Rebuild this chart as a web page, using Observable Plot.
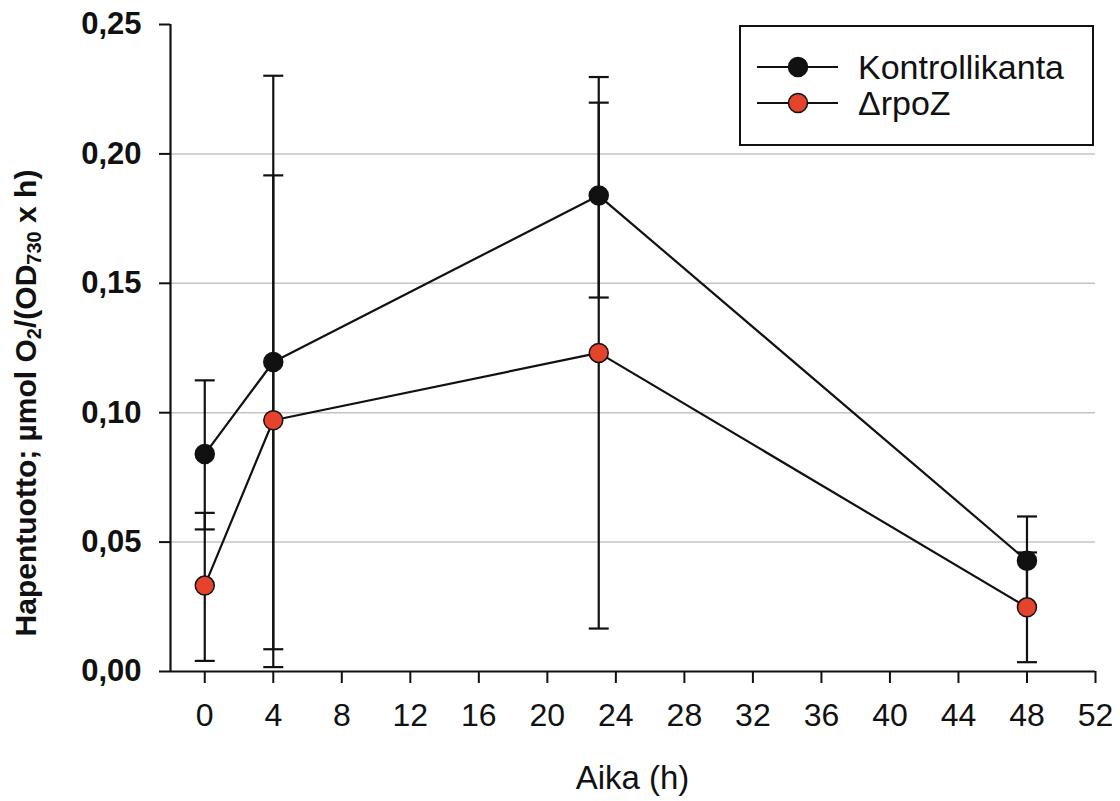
<!DOCTYPE html>
<html>
<head>
<meta charset="utf-8">
<script src="https://cdn.jsdelivr.net/npm/d3@7"></script>
<script src="https://cdn.jsdelivr.net/npm/@observablehq/plot@0.6"></script>
<style>
  html, body { margin: 0; padding: 0; background: #ffffff; }
  #chart svg { display: block; }
</style>
</head>
<body>
<div id="chart"></div>
<script>
// ---- data ----
const hours = [0, 4, 23, 48];
const seriesNames = ["Kontrollikanta", "ΔrpoZ"];
const seriesColors = ["#111111", "#e5432b"];

const controlMean = [0.0840, 0.1196, 0.1839, 0.0428];
const controlHigh = [0.1125, 0.2302, 0.2198, 0.0599];
const controlLow  = [0.0549, 0.0086, 0.1445, 0.0257];

const rpozMean = [0.0332, 0.0971, 0.1231, 0.0248];
const rpozHigh = [0.0613, 0.1917, 0.2297, 0.0460];
const rpozLow  = [0.0041, 0.0017, 0.0166, 0.0036];

const xTicks = [0, 4, 8, 12, 16, 20, 24, 28, 32, 36, 40, 44, 48, 52];
const yTicks = [0, 0.05, 0.10, 0.15, 0.20, 0.25];
const gridTicks = [0.05, 0.10, 0.15, 0.20];

const xLabel = "Aika (h)";
const yLabelParts = [
  {t: "Hapentuotto; µmol O", sub: false},
  {t: "2", sub: true},
  {t: "/(OD", sub: false},
  {t: "730", sub: true},
  {t: " x h)", sub: false}
];

// ---- table ----
const rows = [];
hours.forEach((h, i) => {
  rows.push({series: seriesNames[0], hour: h, mean: controlMean[i], high: controlHigh[i], low: controlLow[i]});
});
hours.forEach((h, i) => {
  rows.push({series: seriesNames[1], hour: h, mean: rpozMean[i], high: rpozHigh[i], low: rpozLow[i]});
});

const capSymbol = {
  draw(context, size) {
    const w = Math.sqrt(size / Math.PI);
    context.moveTo(-w, 0);
    context.lineTo(w, 0);
  }
};

const FONT = "'Liberation Sans', Arial, Helvetica, sans-serif";
const W = 1120, H = 801;
const mL = 170, mR = 25, mT = 24, mB = 130;

const chart = Plot.plot({
  width: W,
  height: H,
  marginLeft: mL,
  marginRight: mR,
  marginTop: mT,
  marginBottom: mB,
  style: {fontFamily: FONT, background: "#ffffff", color: "#111111"},
  x: {domain: [-2, 52], axis: null},
  y: {domain: [0, 0.25], axis: null},
  color: {domain: seriesNames, range: seriesColors},
  marks: [
    Plot.gridY(gridTicks, {stroke: "#c4c4c4", strokeOpacity: 1, strokeWidth: 1.5}),
    Plot.ruleX(rows, {x: "hour", y1: "low", y2: "high", stroke: "#111111", strokeWidth: 2.2}),
    Plot.dot(rows, {x: "hour", y: "high", symbol: capSymbol, r: 10, fill: "none", stroke: "#111111", strokeWidth: 2.2}),
    Plot.dot(rows, {x: "hour", y: "low", symbol: capSymbol, r: 10, fill: "none", stroke: "#111111", strokeWidth: 2.2}),
    Plot.line(rows, {x: "hour", y: "mean", z: "series", stroke: "#111111", strokeWidth: 2.2}),
    Plot.dot(rows, {x: "hour", y: "mean", fill: "series", stroke: "#111111", strokeWidth: 1.5, r: 9.5}),
    Plot.ruleX([-2], {stroke: "#111111", strokeWidth: 2.2}),
    Plot.ruleY([0], {stroke: "#111111", strokeWidth: 2.2}),
    Plot.axisX({ticks: xTicks, tickSize: 12, tickPadding: 20, fontSize: 32, label: null, strokeWidth: 2}),
    Plot.axisY({ticks: yTicks, tickSize: 11, tickPadding: 18, fontSize: 31, fontWeight: "bold", label: null, strokeWidth: 2,
      tickFormat: d => d.toFixed(2).replace(".", ",")})
  ]
});

const svg = d3.select(chart);
svg.selectAll('[aria-label="y-axis tick label"] text, [aria-label="y-axis tick label"]').attr("font-weight", "bold");

// x-axis title
svg.append("text")
  .attr("x", mL + (W - mL - mR) / 2)
  .attr("y", 789)
  .attr("text-anchor", "middle")
  .attr("font-family", FONT)
  .attr("font-size", 33)
  .attr("fill", "#111111")
  .text(xLabel);

// y-axis title with subscripts
const yt = svg.append("text")
  .attr("transform", "translate(36,403) rotate(-90)")
  .attr("text-anchor", "middle")
  .attr("font-family", FONT)
  .attr("font-weight", "bold")
  .attr("font-size", 30)
  .attr("fill", "#111111");
let shifted = false;
yLabelParts.forEach(p => {
  const ts = yt.append("tspan").text(p.t);
  if (p.sub) { ts.attr("font-size", 20).attr("dy", 5); shifted = true; }
  else if (shifted) { ts.attr("dy", -5); shifted = false; }
});

// legend box
const lg = svg.append("g").attr("font-family", FONT);
lg.append("rect")
  .attr("x", 740).attr("y", 26).attr("width", 353).attr("height", 119)
  .attr("fill", "#ffffff").attr("stroke", "#111111").attr("stroke-width", 2);
const rowY = [67, 103];
seriesNames.forEach((name, i) => {
  lg.append("line").attr("x1", 757).attr("x2", 838).attr("y1", rowY[i]).attr("y2", rowY[i])
    .attr("stroke", "#111111").attr("stroke-width", 2);
  lg.append("circle").attr("cx", 798).attr("cy", rowY[i]).attr("r", 9.5)
    .attr("fill", seriesColors[i]).attr("stroke", "#111111").attr("stroke-width", 1.5);
  lg.append("text").attr("x", 858).attr("y", rowY[i] + 12)
    .attr("text-anchor", "start")
    .attr("font-size", 34).attr("fill", "#111111").text(name);
});

document.getElementById("chart").appendChild(chart);
</script>
</body>
</html>
